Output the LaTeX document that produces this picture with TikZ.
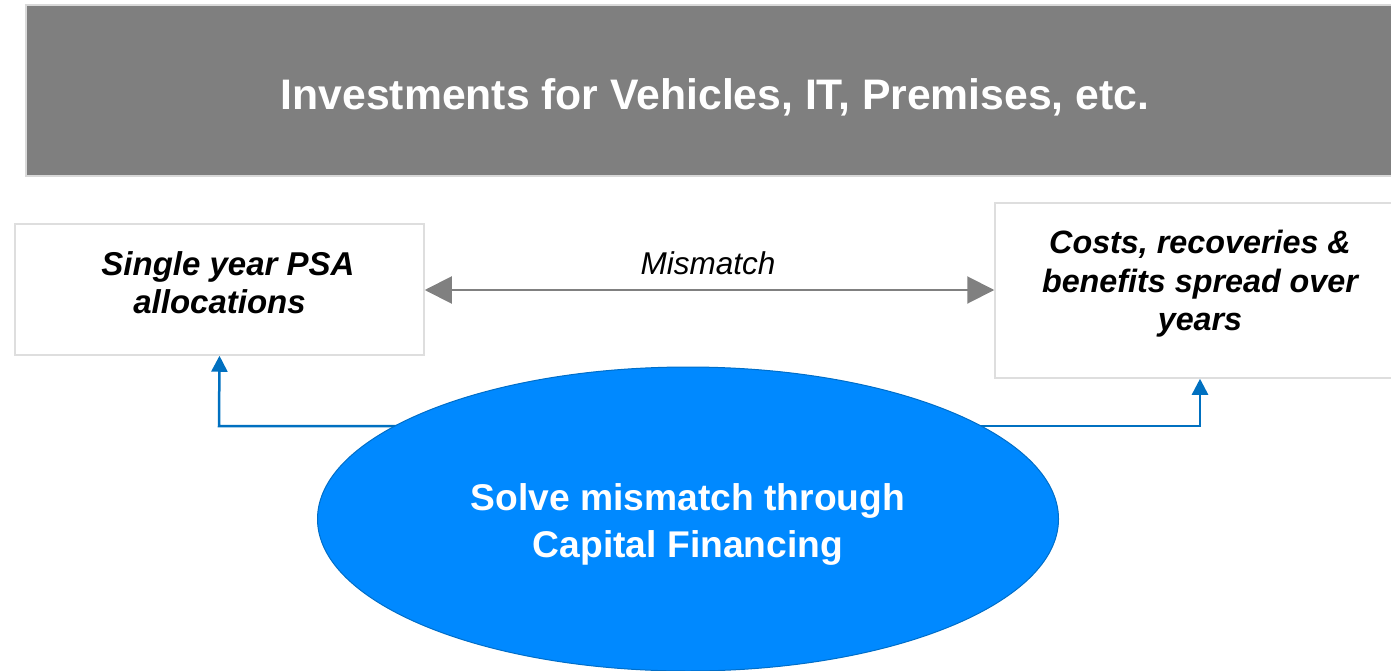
\documentclass[tikz,border=0pt]{standalone}
\usepackage{fontspec}
\setmainfont{Liberation Sans}
\usetikzlibrary{shapes.geometric,arrows.meta,backgrounds}
\definecolor{bannergray}{RGB}{127,127,127}
\definecolor{bannerborder}{RGB}{217,217,217}
\definecolor{boxborder}{RGB}{222,222,222}
\definecolor{arrowgray}{RGB}{128,128,128}
\definecolor{linkblue}{RGB}{0,112,192}
\definecolor{ellfill}{RGB}{0,137,255}
\definecolor{ellborder}{RGB}{0,110,200}
\tikzset{
  banner/.style={draw=bannerborder, line width=2pt, fill=bannergray, inner sep=0pt},
  bannertext/.style={text=white, inner sep=0pt, font=\bfseries\fontsize{42.7}{48}\selectfont},
  infobox/.style={draw=boxborder, line width=1.5pt, fill=white, inner sep=0pt},
  boxtext/.style={inner sep=0pt, align=center, font=\bfseries\itshape\fontsize{33}{38.3}\selectfont},
  solveell/.style={ellipse, draw=ellborder, line width=1pt, fill=ellfill, inner sep=0pt},
  elltext/.style={text=white, inner sep=0pt, align=center, font=\bfseries\fontsize{37.2}{47}\selectfont},
  mismatcharrow/.style={draw=arrowgray, line width=2pt,
    {Triangle[length=27pt,width=27pt]}-{Triangle[length=27pt,width=27pt]}},
  linkarrow/.style={draw=linkblue, line width=2.5pt, -{Triangle[length=16pt,width=16pt]}},
  mlabel/.style={font=\itshape\fontsize{31.5}{36}\selectfont, inner sep=0pt}
}
\begin{document}
\begin{tikzpicture}[x=1pt,y=-1pt]
\useasboundingbox (0,0) rectangle (1391,671);
\clip (0,0) rectangle (1391,671);
\node[banner, minimum width=1378pt, minimum height=171pt,
  label={[bannertext, yshift=-6.5pt]center:Investments for Vehicles, IT, Premises, etc.}] (top) at (715,90.5) {};
\node[infobox, minimum width=409pt, minimum height=131pt,
  label={[boxtext, yshift=6.5pt]center:\hspace*{17pt}Single year PSA\\allocations}] (lbox) at (219.5,289.5) {};
\node[infobox, minimum width=410pt, minimum height=175pt,
  label={[boxtext, font=\bfseries\itshape\fontsize{32.3}{38.5}\selectfont, yshift=6.5pt]center:Costs, recoveries \&\\benefits spread over\\years}] (rbox) at (1200,290.5) {};
\draw[mismatcharrow] (lbox.east |- 0,290) -- (rbox.west |- 0,290);
\node[mlabel] (mm) at (708,263) {Mismatch};
\node[solveell, minimum width=741pt, minimum height=304pt,
  label={[elltext, yshift=-5pt]center:Solve mismatch through\\Capital Financing}] (ell) at (688,519) {};
\begin{scope}[on background layer]
\coordinate (lturn) at (219,426);
\coordinate (rturn) at (1200,426);
\draw[linkarrow] (lturn -| ell.center) -- (lturn) -- (lbox.south);
\draw[linkarrow] (rturn -| ell.center) -- (rturn) -- (rbox.south);
\end{scope}
\end{tikzpicture}
\end{document}
